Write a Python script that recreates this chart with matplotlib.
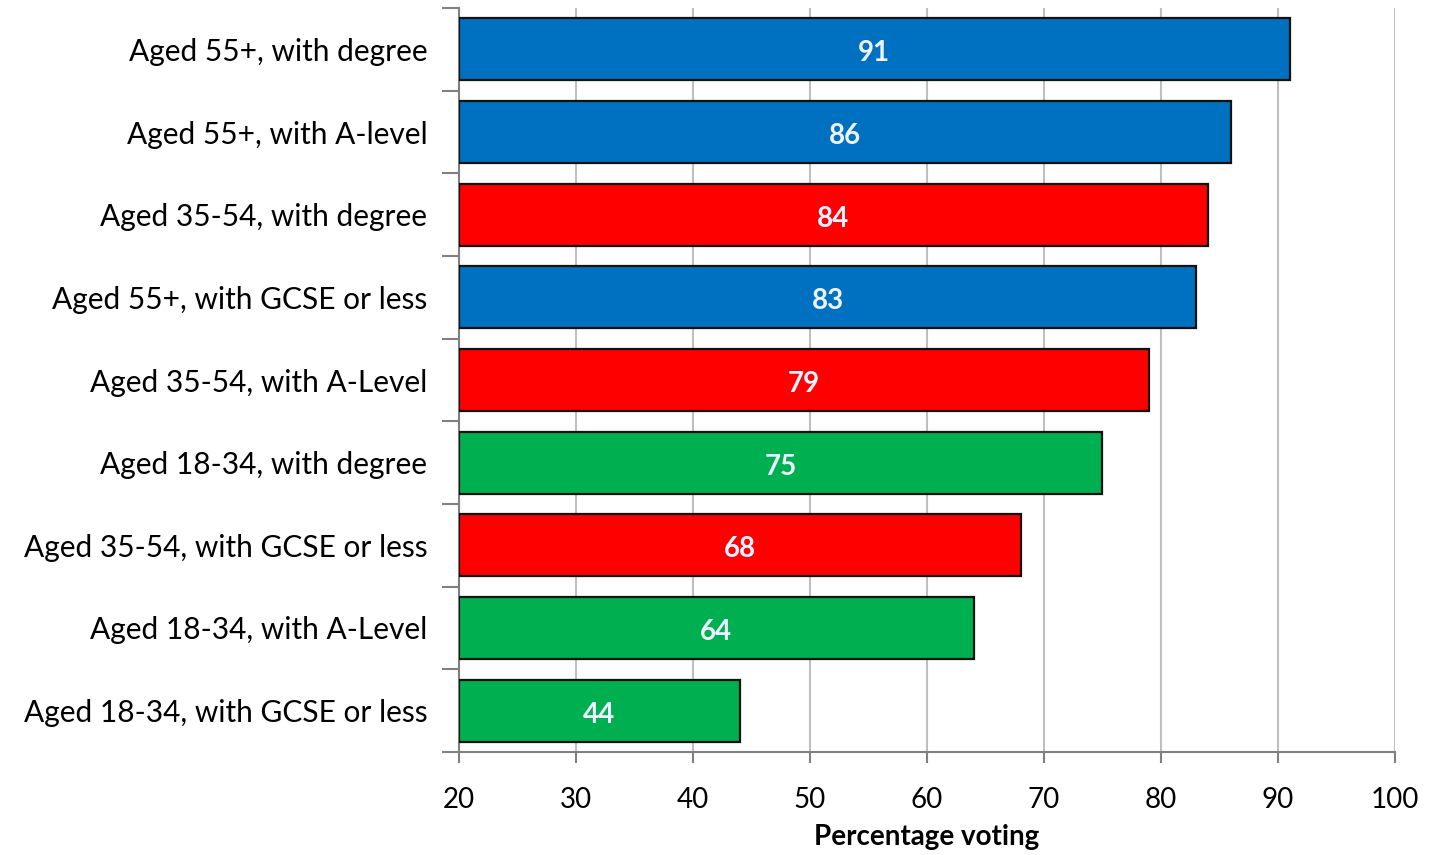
import matplotlib
matplotlib.use("Agg")
import matplotlib.pyplot as plt
import numpy as np

categories = [
    "Aged 55+, with degree",
    "Aged 55+, with A-level",
    "Aged 35-54, with degree",
    "Aged 55+, with GCSE or less",
    "Aged 35-54, with A-Level",
    "Aged 18-34, with degree",
    "Aged 35-54, with GCSE or less",
    "Aged 18-34, with A-Level",
    "Aged 18-34, with GCSE or less",
]
values = [91, 86, 84, 83, 79, 75, 68, 64, 44]
groups = ["55+", "55+", "35-54", "55+", "35-54", "18-34", "35-54", "18-34", "18-34"]
group_colors = {"55+": "#0070C0", "35-54": "#FF0000", "18-34": "#00B050"}
xticks = [20, 30, 40, 50, 60, 70, 80, 90, 100]
xlabel = "Percentage voting"

plt.rcParams['font.family'] = ['Lato', 'DejaVu Sans']

fig = plt.figure(figsize=(14.5, 8.55), dpi=100)
ax = fig.add_axes([0.3166, 0.1205, 0.962 - 0.3166, 0.9906 - 0.1205])

n = len(categories)
y = np.arange(n)
colors = [group_colors[g] for g in groups]
base = 20
ax.barh(y, [v - base for v in values], left=base, height=0.75, color=colors,
        edgecolor="#111111", linewidth=1.6, zorder=3)

for yi, v in zip(y, values):
    ax.text((base + v) / 2, yi + 0.05, str(v), ha="center", va="center", color="#EEF4FF",
            fontsize=20, fontweight="bold", zorder=4)

ax.set_xlim(20, 100)
ax.set_ylim(n - 0.5, -0.5)
ax.set_xticks(xticks)
ax.set_xticklabels([str(t) for t in xticks], fontsize=20)
ax.set_yticks(y)
ax.set_yticklabels(categories, fontsize=21.5)
ax.set_yticks(np.arange(-0.5, n, 1.0), minor=True)
ax.tick_params(axis="y", which="major", length=0, pad=23)
ax.tick_params(axis="y", which="minor", length=12, width=1.5, color="#808080")
ax.tick_params(axis="x", which="major", length=8, width=1.5, color="#808080", pad=17)
ax.xaxis.grid(True, color="#BFBFBF", linewidth=1.5, zorder=0)
ax.set_axisbelow(True)
for s in ["top", "right"]:
    ax.spines[s].set_visible(False)
for s in ["left", "bottom"]:
    ax.spines[s].set_color("#808080")
    ax.spines[s].set_linewidth(1.5)
ax.set_xlabel(xlabel, fontsize=20, fontweight="bold", labelpad=8)

fig.savefig("out.png", dpi=100)
